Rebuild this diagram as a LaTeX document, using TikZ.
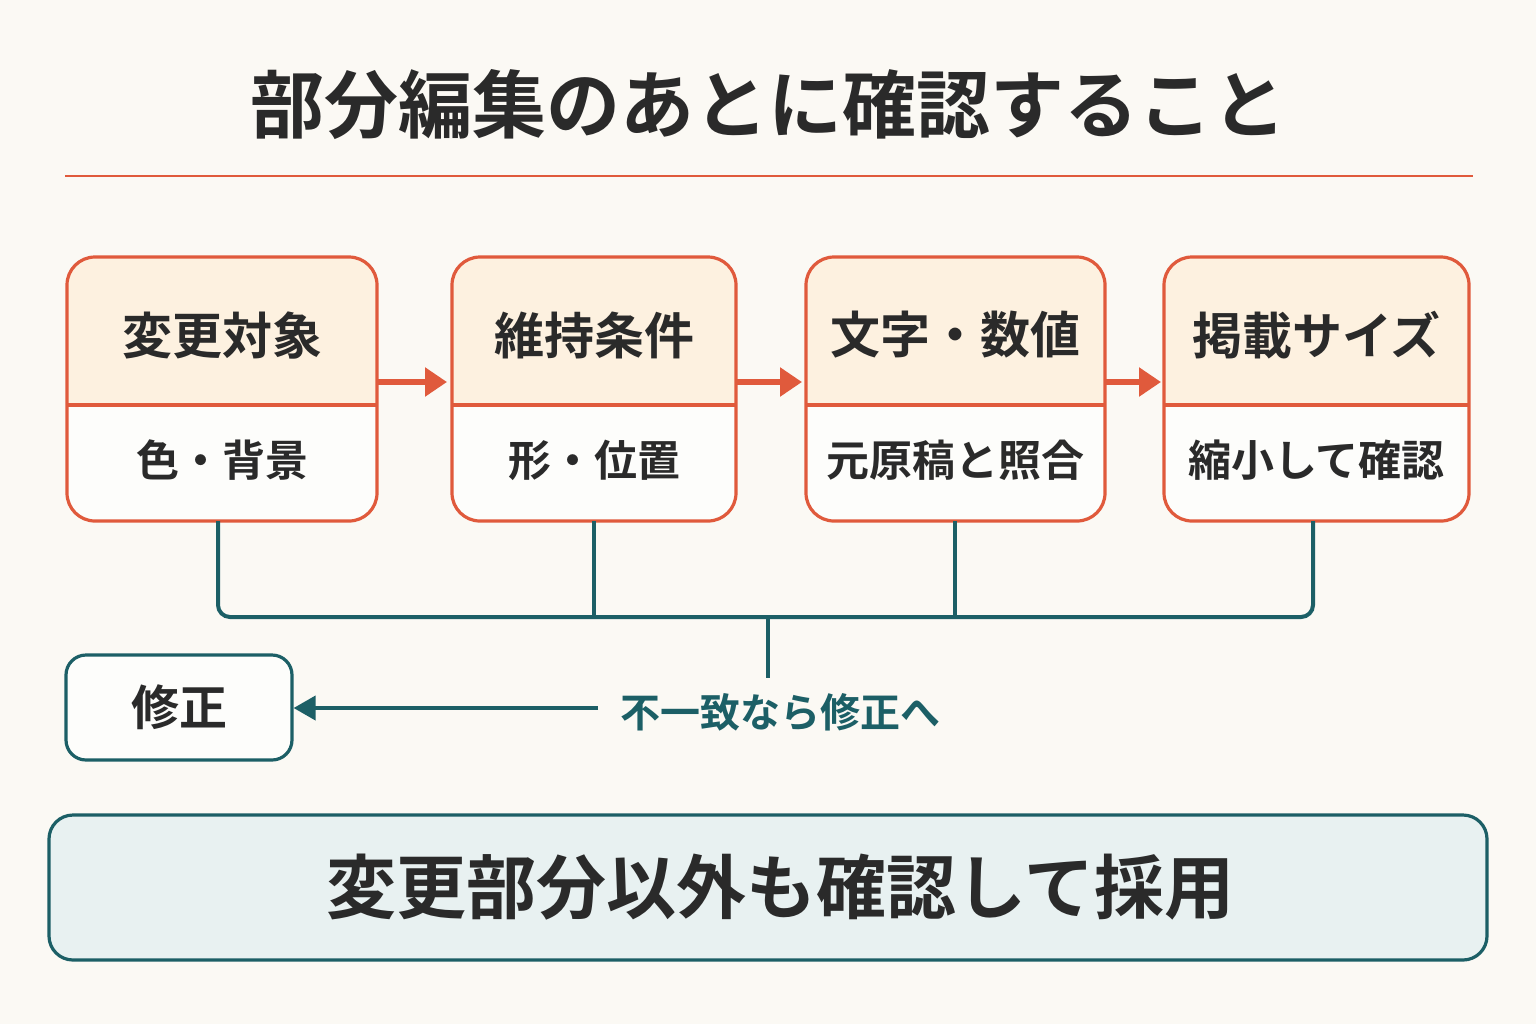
\documentclass[tikz,border=0pt]{standalone}
\usepackage{fontspec}
\newfontfamily\cjk{Noto Sans CJK JP}[BoldFont={Noto Sans CJK JP Bold}]
\usetikzlibrary{arrows.meta}
\definecolor{bg}{HTML}{FBF9F4}
\definecolor{red}{HTML}{E05A3C}
\definecolor{head}{HTML}{FDF1E0}
\definecolor{teal}{HTML}{1C5F66}
\definecolor{tl}{HTML}{E8F1F1}
\definecolor{ink}{HTML}{2A2A2A}
\begin{document}
\begin{tikzpicture}[x=0.5pt,y=-0.5pt,font=\cjk\bfseries,
  hd/.style={text=ink,font=\cjk\bfseries\fontsize{25}{29}\selectfont},
  sb/.style={text=ink,font=\cjk\bfseries\fontsize{21.5}{25}\selectfont},
  rarr/.style={red,line width=3pt,-{Triangle[length=11pt,width=14pt]}},
  tline/.style={teal,line width=2pt,rounded corners=6pt}]
\path[fill=bg] (0,0) rectangle (1536,1024);
\useasboundingbox (0,0) rectangle (1536,1024);
\node[text=ink,font=\cjk\bfseries\fontsize{37}{42}\selectfont] (title) at (768,105) {部分編集のあとに確認すること};
\draw[red,line width=1.3pt] (65,176) coordinate (l1) -- (1473,176) coordinate (l2);
\foreach \n/\a/\b/\h/\s in {1/67/377/変更対象/色・背景, 2/452/736/維持条件/形・位置, 3/806/1105/文字・数値/元原稿と照合, 4/1164/1469/掲載サイズ/縮小して確認}{
  \begin{scope}
  \clip[rounded corners=14pt] (\a,257) rectangle (\b,521);
  \fill[head] (\a,257) rectangle (\b,405);
  \fill[white!60!bg] (\a,405) rectangle (\b,521);
  \end{scope}
  \draw[red,line width=1.6pt,rounded corners=14pt] (\a,257) rectangle (\b,521);
  \draw[red,line width=1.6pt] (\a,405) -- (\b,405);
  \node[hd] (h\n) at ({(\a+\b)/2},335) {\h};
  \node[sb] (s\n) at ({(\a+\b)/2},460) {\s};
  \coordinate (L\n) at (\a,382);
  \coordinate (R\n) at (\b,382);
  \coordinate (B\n) at ({(\a+\b)/2},521);
}
\draw[rarr] (R1) -- ++(70,0) coordinate (e1);
\draw[rarr] (R2) -- ++(66,0) coordinate (e2);
\draw[rarr] (R3) -- ++(56,0) coordinate (e3);
\draw[tline] (218,521) -- (218,617) -- (1313,617) -- (1313,521);
\draw[tline] (594,521) -- (594,617);
\draw[tline] (955,521) -- (955,617);
\draw[tline] (768,617) -- (768,678) coordinate (m);
\node[text=teal,font=\cjk\bfseries\fontsize{20}{24}\selectfont] (lab) at (780,712) {不一致なら修正へ};
\node[draw=teal,line width=1.6pt,rounded corners=10pt,fill=white!60!bg,minimum width=113pt,minimum height=52.5pt,text=ink,font=\cjk\bfseries\fontsize{24}{28}\selectfont] (fix) at (179,707.5) {修正};
\draw[teal,line width=2pt,-{Triangle[length=11pt,width=12pt]}] (598,708) -- (fix.east |- 0,708);
\node[draw=teal,line width=1.6pt,rounded corners=12pt,fill=tl,minimum width=719pt,minimum height=72.5pt] (final) at (768,887.5) {};
\node[text=ink,font=\cjk\bfseries\fontsize{35}{40}\selectfont] (finaltext) at (780,887.5) {変更部分以外も確認して採用};
\end{tikzpicture}
\end{document}
